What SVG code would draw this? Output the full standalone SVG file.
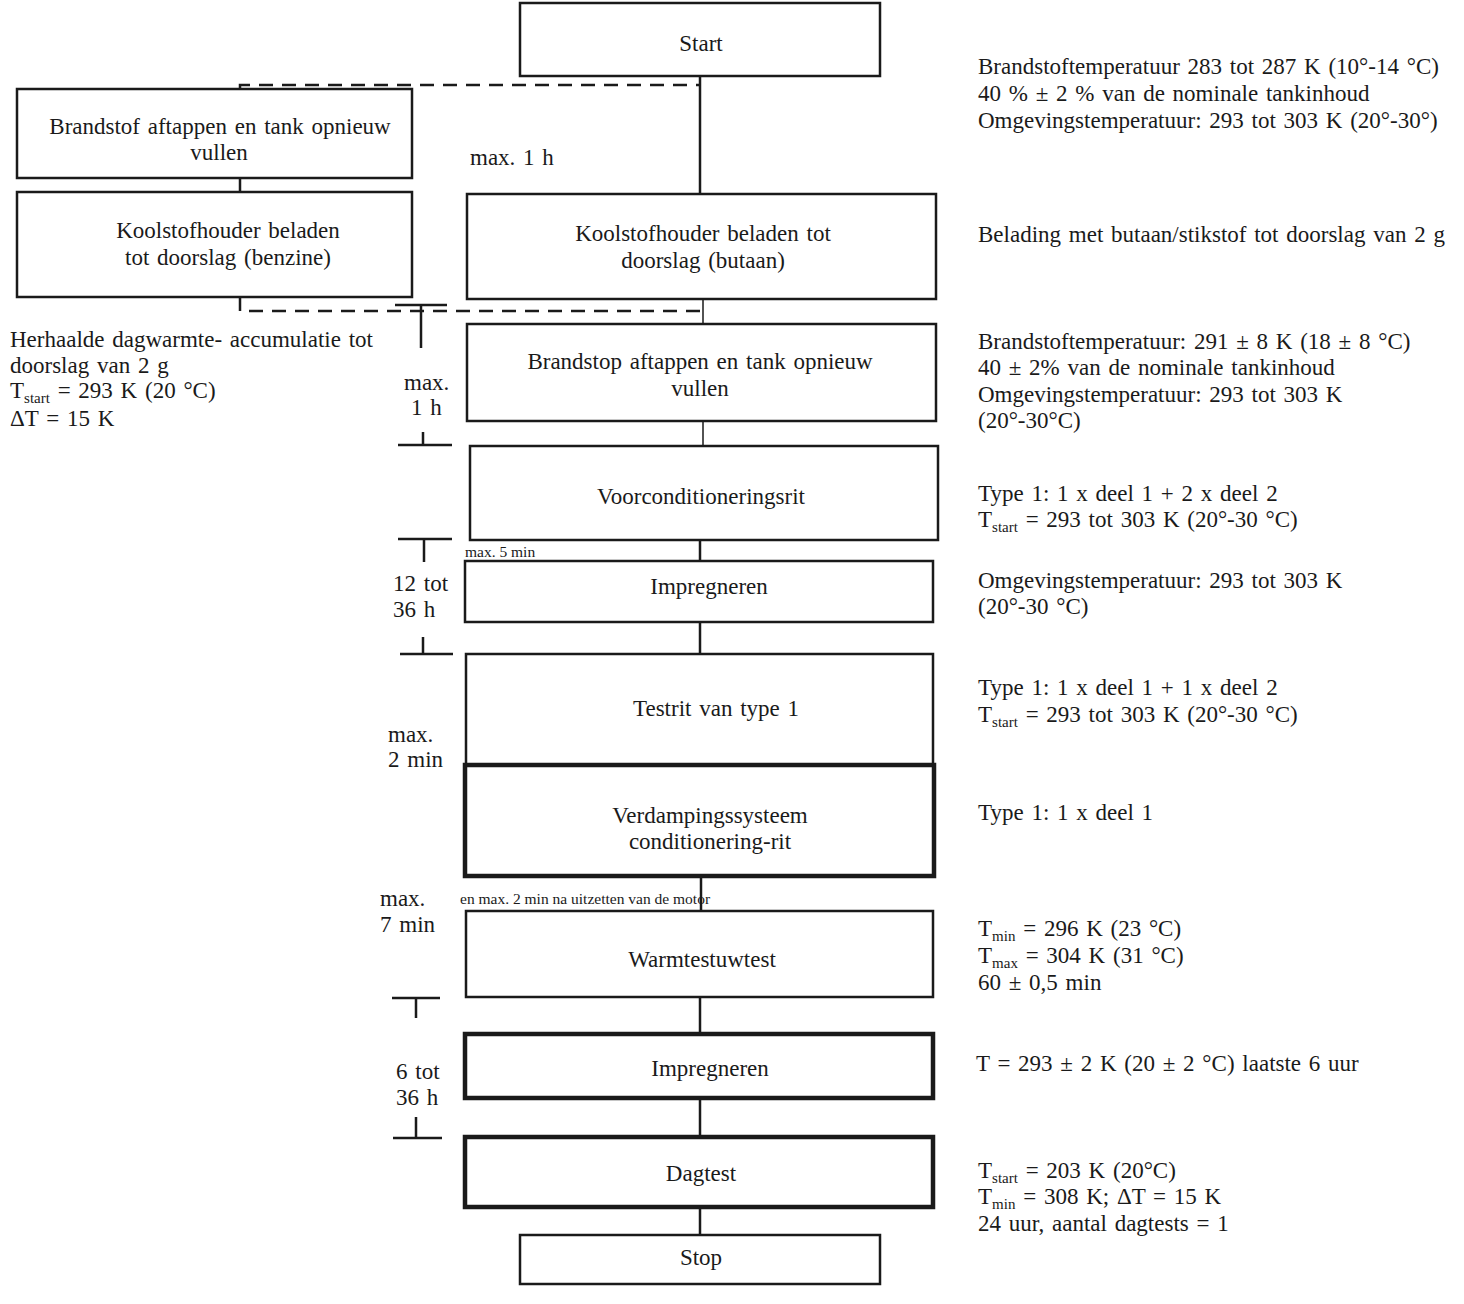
<svg xmlns="http://www.w3.org/2000/svg" width="1464" height="1304" viewBox="0 0 1464 1304">
<style>
text{font-family:"Liberation Serif","Times New Roman",serif;font-size:23px;fill:#1a1a1a;word-spacing:2px}
.c{text-anchor:middle}
.s{font-size:15.5px;word-spacing:0}
.sub{font-size:15px}
rect{fill:#fff;stroke:#1a1a1a;stroke-width:2.5}
.tk{stroke-width:4.5}
line,path{stroke:#1a1a1a;stroke-width:2.5;fill:none}
.thin{stroke-width:1.5}
.dash{stroke-dasharray:14 9}
</style>
<rect x="0" y="0" width="1464" height="1304" style="fill:#fff;stroke:none"/>
<g id="connectors">
<path class="dash" d="M240,89 V85 H700"/>
<path class="dash" d="M240,297 V311 H703"/>
<line x1="240" y1="178" x2="240" y2="192"/>
<line x1="700" y1="76" x2="700" y2="194"/>
<line class="thin" x1="703" y1="299" x2="703" y2="324"/>
<line class="thin" x1="703" y1="421" x2="703" y2="446"/>
<line x1="700" y1="540" x2="700" y2="561"/>
<line x1="700" y1="622" x2="700" y2="654"/>
<line x1="701" y1="876" x2="701" y2="911"/>
<line x1="700" y1="997" x2="700" y2="1034"/>
<line x1="700" y1="1098" x2="700" y2="1137"/>
<line x1="700" y1="1207" x2="700" y2="1235"/>
</g>
<g id="timing">
<path d="M395,305 H447 M421,305 V348"/>
<path d="M423,432 V445 M398,445 H452"/>
<path d="M398,539 H452 M424,539 V562"/>
<path d="M423,637 V654 M400,654 H453"/>
<path d="M392,998 H440 M416,998 V1018"/>
<path d="M416,1117 V1138 M393,1138 H442"/>
<text x="404" y="390">max.</text>
<text x="411" y="415">1 h</text>
<text x="393" y="591">12 tot</text>
<text x="393" y="617">36 h</text>
<text x="388" y="742">max.</text>
<text x="388" y="767">2 min</text>
<text x="380" y="906">max.</text>
<text x="380" y="932">7 min</text>
<text x="396" y="1079">6 tot</text>
<text x="396" y="1105">36 h</text>
<text x="470" y="165">max. 1 h</text>
<text class="s" x="465" y="557">max. 5 min</text>
<text class="s" x="460" y="904">en max. 2 min na uitzetten van de motor</text>
</g>
<g id="n-start"><rect x="520" y="3" width="360" height="73"/><text class="c" x="701" y="51">Start</text></g>
<g id="n-left1"><rect x="17" y="89" width="395" height="89"/><text class="c" x="220" y="134">Brandstof aftappen en tank opnieuw</text><text class="c" x="219" y="160">vullen</text></g>
<g id="n-left2"><rect x="17" y="192" width="395" height="105"/><text class="c" x="228" y="238">Koolstofhouder beladen</text><text class="c" x="228" y="265">tot doorslag (benzine)</text></g>
<g id="n-butaan"><rect x="467" y="194" width="469" height="105"/><text class="c" x="703" y="241">Koolstofhouder beladen tot</text><text class="c" x="703" y="268">doorslag (butaan)</text></g>
<g id="n-brandstop"><rect x="467" y="324" width="469" height="97"/><text class="c" x="700" y="369">Brandstop aftappen en tank opnieuw</text><text class="c" x="700" y="396">vullen</text></g>
<g id="n-voorcond"><rect x="470" y="446" width="468" height="94"/><text class="c" x="701" y="504">Voorconditioneringsrit</text></g>
<g id="n-impreg1"><rect x="465" y="561" width="468" height="61"/><text class="c" x="709" y="594">Impregneren</text></g>
<g id="n-testrit"><rect x="466" y="654" width="467" height="111"/><text class="c" x="716" y="716">Testrit van type 1</text></g>
<g id="n-verdamp"><rect class="tk" x="465" y="765" width="469" height="111"/><text class="c" x="710" y="823">Verdampingssysteem</text><text class="c" x="710" y="849">conditionering-rit</text></g>
<g id="n-warm"><rect x="466" y="911" width="467" height="86"/><text class="c" x="702" y="967">Warmtestuwtest</text></g>
<g id="n-impreg2"><rect class="tk" x="465" y="1034" width="468" height="64"/><text class="c" x="710" y="1076">Impregneren</text></g>
<g id="n-dagtest"><rect class="tk" x="465" y="1137" width="468" height="70"/><text class="c" x="701" y="1181">Dagtest</text></g>
<g id="n-stop"><rect x="520" y="1235" width="360" height="49"/><text class="c" x="701" y="1265">Stop</text></g>
<g id="notes-left">
<text x="10" y="347">Herhaalde dagwarmte- accumulatie tot</text>
<text x="10" y="373">doorslag van 2 g</text>
<text x="10" y="398">T<tspan class="sub" dy="5">start</tspan><tspan dy="-5"> = 293 K (20 °C)</tspan></text>
<text x="10" y="426">ΔT = 15 K</text>
</g>
<g id="notes-right">
<text x="978" y="74">Brandstoftemperatuur 283 tot 287 K (10°-14 °C)</text>
<text x="978" y="101">40 % ± 2 % van de nominale tankinhoud</text>
<text x="978" y="128">Omgevingstemperatuur: 293 tot 303 K (20°-30°)</text>
<text x="978" y="242">Belading met butaan/stikstof tot doorslag van 2 g</text>
<text x="978" y="349">Brandstoftemperatuur: 291 ± 8 K (18 ± 8 °C)</text>
<text x="978" y="375">40 ± 2% van de nominale tankinhoud</text>
<text x="978" y="402">Omgevingstemperatuur: 293 tot 303 K</text>
<text x="978" y="428">(20°-30°C)</text>
<text x="978" y="501">Type 1: 1 x deel 1 + 2 x deel 2</text>
<text x="978" y="527">T<tspan class="sub" dy="5">start</tspan><tspan dy="-5"> = 293 tot 303 K (20°-30 °C)</tspan></text>
<text x="978" y="588">Omgevingstemperatuur: 293 tot 303 K</text>
<text x="978" y="614">(20°-30 °C)</text>
<text x="978" y="695">Type 1: 1 x deel 1 + 1 x deel 2</text>
<text x="978" y="722">T<tspan class="sub" dy="5">start</tspan><tspan dy="-5"> = 293 tot 303 K (20°-30 °C)</tspan></text>
<text x="978" y="820">Type 1: 1 x deel 1</text>
<text x="978" y="936">T<tspan class="sub" dy="5">min</tspan><tspan dy="-5"> = 296 K (23 °C)</tspan></text>
<text x="978" y="963">T<tspan class="sub" dy="5">max</tspan><tspan dy="-5"> = 304 K (31 °C)</tspan></text>
<text x="978" y="990">60 ± 0,5 min</text>
<text x="976" y="1071">T = 293 ± 2 K (20 ± 2 °C) laatste 6 uur</text>
<text x="978" y="1178">T<tspan class="sub" dy="5">start</tspan><tspan dy="-5"> = 203 K (20°C)</tspan></text>
<text x="978" y="1204">T<tspan class="sub" dy="5">min</tspan><tspan dy="-5"> = 308 K; ΔT = 15 K</tspan></text>
<text x="978" y="1231">24 uur, aantal dagtests = 1</text>
</g>
</svg>
